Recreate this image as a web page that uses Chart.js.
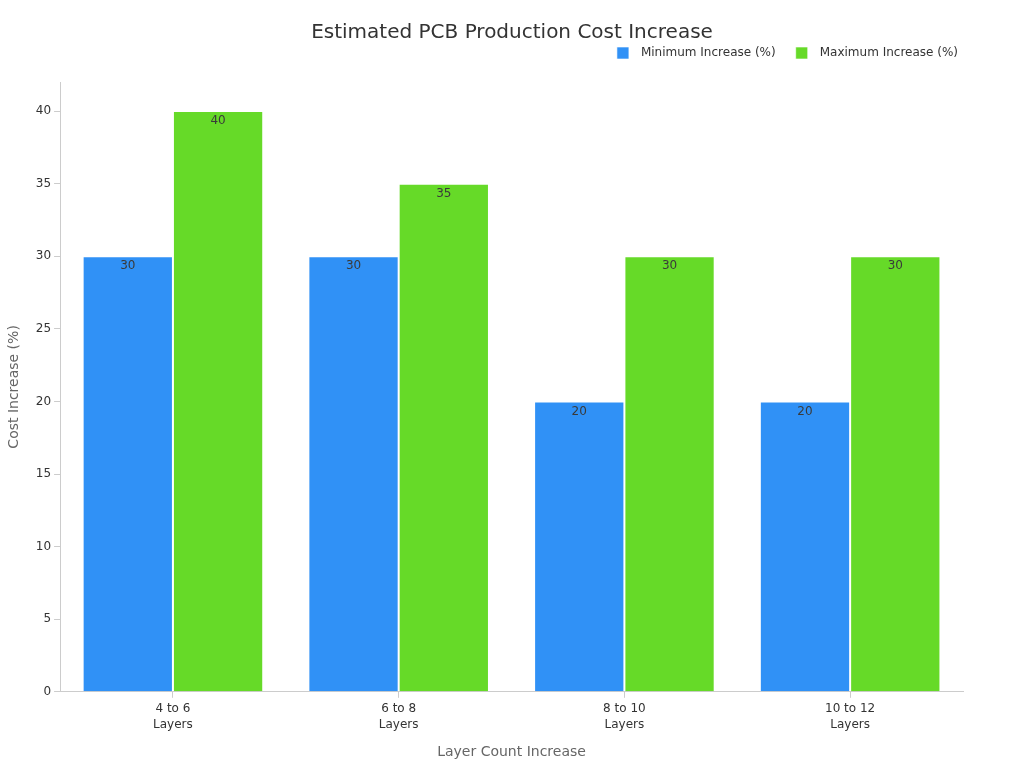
<!DOCTYPE html>
<html><head><meta charset="utf-8">
<script src="https://cdn.jsdelivr.net/npm/chart.js@4/dist/chart.umd.min.js"></script>
<style>html,body{margin:0;padding:0;background:#fff}#wrap{width:1024px;height:768px}</style>
</head><body><div id="wrap"><canvas id="c" width="1024" height="768"></canvas></div>
<script>
const categories = [["4 to 6","Layers"],["6 to 8","Layers"],["8 to 10","Layers"],["10 to 12","Layers"]];
const minIncrease = [30, 30, 20, 20];
const maxIncrease = [40, 35, 30, 30];
const seriesNames = ["Minimum Increase (%)", "Maximum Increase (%)"];
const chartTitle = "Estimated PCB Production Cost Increase";

const labelPlugin = {
  id: 'barLabels',
  afterDatasetsDraw(chart) {
    const ctx = chart.ctx;
    ctx.save();
    ctx.font = '12px "DejaVu Sans"';
    ctx.fillStyle = '#3a3a3a';
    ctx.textAlign = 'center';
    ctx.textBaseline = 'middle';
    chart.data.datasets.forEach((ds, i) => {
      chart.getDatasetMeta(i).data.forEach((bar, j) => {
        ctx.fillText(String(ds.data[j]), bar.x, bar.y + 10);
      });
    });
    ctx.restore();
  }
};

const titlePlugin = {
  id: 'centerTitle',
  beforeInit(chart) {
    const lg = chart.legend;
    if (lg) {
      const origFit = lg.fit;
      lg.fit = function () { origFit.call(this); this.height += 13; };
    }
  },
  afterDraw(chart) {
    const ctx = chart.ctx;
    ctx.save();
    ctx.font = '20px "DejaVu Sans"';
    ctx.fillStyle = '#333';
    ctx.textAlign = 'center';
    ctx.textBaseline = 'middle';
    ctx.fillText(chartTitle, chart.width / 2, 33);
    ctx.restore();
  }
};

Chart.defaults.font.family = '"DejaVu Sans", sans-serif';
new Chart(document.getElementById('c'), {
  type: 'bar',
  data: {
    labels: categories,
    datasets: [
      { label: seriesNames[0], data: minIncrease, backgroundColor: '#3091f6', borderColor: 'rgba(255,255,255,0.6)', borderWidth: 1, categoryPercentage: 0.8, barPercentage: 1.0 },
      { label: seriesNames[1], data: maxIncrease, backgroundColor: '#66da28', borderColor: 'rgba(255,255,255,0.6)', borderWidth: 1, categoryPercentage: 0.8, barPercentage: 1.0 }
    ]
  },
  options: {
    responsive: false,
    animation: false,
    layout: { padding: { left: 2, right: 46, top: 27, bottom: 3 } },
    plugins: {
      title: { display: false },
      legend: {
        position: 'top', align: 'end',
        labels: {
          color: '#333', font: { size: 12 }, boxWidth: 12, boxHeight: 12, padding: 20,
          generateLabels(chart) {
            const items = Chart.defaults.plugins.legend.labels.generateLabels(chart);
            items.forEach(it => { it.text = '\u2002' + it.text; });
            return items;
          }
        }
      },
      tooltip: { enabled: false }
    },
    scales: {
      x: {
        grid: { display: true, offset: false, drawOnChartArea: false, drawTicks: true, tickLength: 6, color: '#ccc' },
        border: { display: true, color: '#ccc' },
        ticks: { color: '#333', font: { size: 12, lineHeight: 1.35 } },
        title: { display: true, text: 'Layer Count Increase', color: '#666', font: { size: 14 }, padding: { top: 8 } }
      },
      y: {
        min: 0, max: 42,
        grid: { display: true, drawOnChartArea: false, drawTicks: true, tickLength: 6, color: '#ccc' },
        border: { display: true, color: '#ccc' },
        ticks: { color: '#333', font: { size: 12 }, stepSize: 5, callback: (v) => v % 5 === 0 ? v : null },
        title: { display: true, text: 'Cost Increase (%)', color: '#666', font: { size: 14 }, padding: { top: 4, bottom: 10 } }
      },
      yR: {
        position: 'right', display: true,
        grid: { display: false }, border: { display: false },
        ticks: { display: false },
        afterFit(s) { s.width = 15; }
      }
    }
  },
  plugins: [labelPlugin, titlePlugin]
});
</script></body></html>
